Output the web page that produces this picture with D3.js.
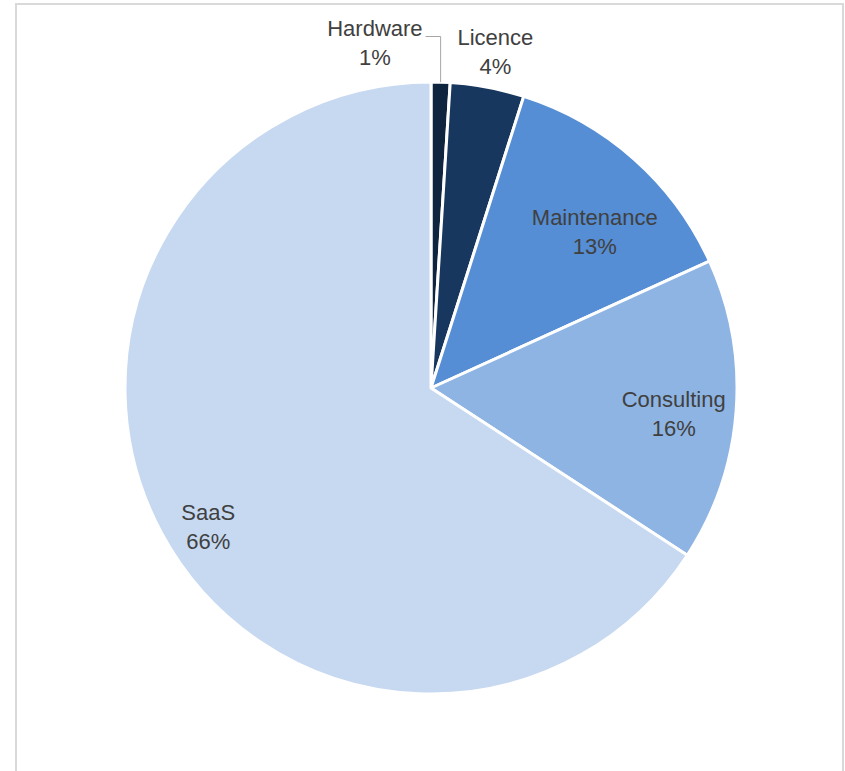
<!DOCTYPE html>
<html>
<head>
<meta charset="utf-8">
<script src="https://cdn.jsdelivr.net/npm/d3@7"></script>
<style>
  body { margin: 0; background: #fff; }
  #main { width: 845px; height: 771px; }
</style>
</head>
<body>
<div id="main"></div>
<script>
'use strict';

// data
var categories = ['Hardware', 'Licence', 'Maintenance', 'Consulting', 'SaaS'];
var shares = [1.0, 3.9, 13.3, 16.0, 65.8];
var shareLabels = ['1%', '4%', '13%', '16%', '66%'];
var colors = ['#0F243E', '#17375E', '#558ED5', '#8EB4E3', '#C6D9F1'];

var width = 845, height = 771;
var cx = 431, cy = 388, R = 306;

// where each label sits: radius and angle nudge (deg) from slice middle
var labelPos = {
  Hardware:    { r: 351, da: -11, leader: true },
  Licence:     { r: 343, da: 0.2 },
  Maintenance: { r: 227, da: 4.6 },
  Consulting:  { r: 244, da: 1.6 },
  SaaS:        { r: 262, da: -3.3 }
};

var svg = d3.select('#main').append('svg')
  .attr('width', width).attr('height', height);

// chart frame
svg.append('rect')
  .attr('x', 16).attr('y', 4)
  .attr('width', 827).attr('height', 800)
  .attr('fill', 'none')
  .attr('stroke', '#d9d9d9')
  .attr('stroke-width', 2);

var data = categories.map(function(c, i) {
  return { name: c, value: shares[i], label: shareLabels[i], color: colors[i] };
});

var pie = d3.pie().sort(null).value(function(d) { return d.value; });
var arc = d3.arc().innerRadius(0).outerRadius(R);
var arcs = pie(data);

var g = svg.append('g').attr('transform', 'translate(' + cx + ',' + cy + ')');

g.selectAll('path')
  .data(arcs).enter()
  .append('path')
  .attr('d', arc)
  .attr('fill', function(d) { return d.data.color; })
  .attr('stroke', '#fff')
  .attr('stroke-width', 3)
  .attr('stroke-linejoin', 'round');

function polar(r, a) {
  return [r * Math.sin(a), -r * Math.cos(a)];
}

var labels = g.selectAll('g.lbl')
  .data(arcs).enter()
  .append('g')
  .attr('class', 'lbl')
  .attr('transform', function(d) {
    var p = labelPos[d.data.name];
    var mid = (d.startAngle + d.endAngle) / 2 + p.da * Math.PI / 180;
    var xy = polar(p.r, mid);
    d.lx = xy[0]; d.ly = xy[1];
    return 'translate(' + xy[0] + ',' + xy[1] + ')';
  });

labels.each(function(d) {
  var t = d3.select(this).append('text')
    .attr('text-anchor', 'middle')
    .attr('font-family', '"Liberation Sans", Arial, sans-serif')
    .attr('font-size', 22)
    .attr('fill', '#404040');
  t.append('tspan').attr('x', 0).attr('y', -6).text(d.data.name);
  t.append('tspan').attr('x', 0).attr('y', 23).text(d.data.label);

  if (labelPos[d.data.name].leader) {
    var w = t.select('tspan').node().getComputedTextLength();
    var mid = (d.startAngle + d.endAngle) / 2;
    var edge = polar(R, mid);
    var x0 = d.lx + w / 2 + 3, y0 = d.ly - 5;
    g.append('polyline')
      .attr('points', [[x0, y0], [edge[0], y0], [edge[0], edge[1]]].join(' '))
      .attr('fill', 'none')
      .attr('stroke', '#a6a6a6')
      .attr('stroke-width', 1);
  }
});
</script>
</body>
</html>
